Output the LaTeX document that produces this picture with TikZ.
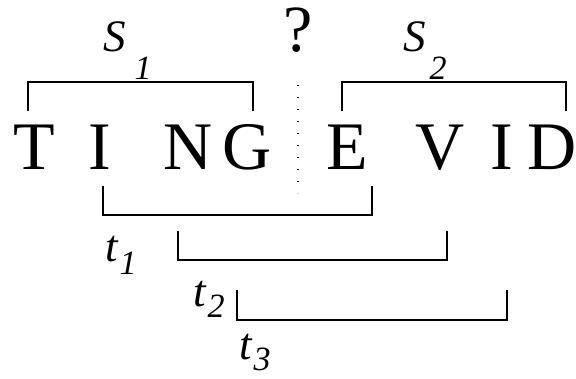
\documentclass[tikz,border=0pt]{standalone}
\usepackage{fontspec}
\setmainfont{Liberation Serif}
\usetikzlibrary{positioning}
\newcommand{\lowsub}[4]{\textit{#1}\hspace{#3}\raisebox{-#4}[0pt][0pt]{\fontsize{34}{34}\selectfont\textit{#2}}}

\begin{document}
\begin{tikzpicture}[x=1pt,y=-1pt,
  letter/.style={inner sep=0pt, anchor=base, font=\fontsize{68}{68}\selectfont},
  lbl/.style={inner sep=0pt, anchor=base west, font=\fontsize{45}{45}\selectfont},
  spanline/.style={line width=1.2pt}]
  \useasboundingbox (0,0) rectangle (576,379);

  % The two words
  \node[letter] (T)  at (34,170)  {T};
  \node[letter] (I1) at (100,170) {I};
  \node[letter] (N)  at (188,170) {N};
  \node[letter] (G)  at (247,170) {G};
  \node[letter] (E)  at (347,170) {E};
  \node[letter] (V)  at (440,170) {V};
  \node[letter] (I2) at (502,170) {I};
  \node[letter] (D)  at (552,170) {D};

  % Word boundary in question
  \node[letter, font=\fontsize{66}{66}\selectfont] (q) at (298,52) {?};
  \coordinate (cut1) at (298,85);
  \coordinate (cut2) at (298,193);
  \draw[line width=1.3pt, dash pattern=on 1.3pt off 10.7pt] (cut1) -- (cut2);

  % Segments S1 and S2 (above)
  \coordinate (s1l) at (28,111);
  \coordinate (s1r) at (253,111);
  \draw[spanline] (s1l) -- ++(0,-29) -| (s1r);
  \node[lbl] (s1) at (103,52) {\lowsub{S}{1}{9pt}{28pt}};

  \coordinate (s2l) at (342,111);
  \coordinate (s2r) at (566,111);
  \draw[spanline] (s2l) -- ++(0,-29) -| (s2r);
  \node[lbl] (s2) at (403,52) {\lowsub{S}{2}{4pt}{28pt}};

  % Windows t1, t2, t3 (below)
  \coordinate (t1l) at (103,186);
  \coordinate (t1r) at (372,186);
  \draw[spanline] (t1l) -- ++(0,29) -| (t1r);
  \node[lbl] (t1) at (105,262) {\lowsub{t}{1}{1pt}{13pt}};

  \coordinate (t2l) at (178,231);
  \coordinate (t2r) at (447,231);
  \draw[spanline] (t2l) -- ++(0,29) -| (t2r);
  \node[lbl] (t2) at (193,307) {\lowsub{t}{2}{1pt}{11pt}};

  \coordinate (t3l) at (237,290);
  \coordinate (t3r) at (507,290);
  \draw[spanline] (t3l) -- ++(0,30) -| (t3r);
  \node[lbl] (t3) at (239,360) {\lowsub{t}{3}{1pt}{11pt}};
\end{tikzpicture}
\end{document}
